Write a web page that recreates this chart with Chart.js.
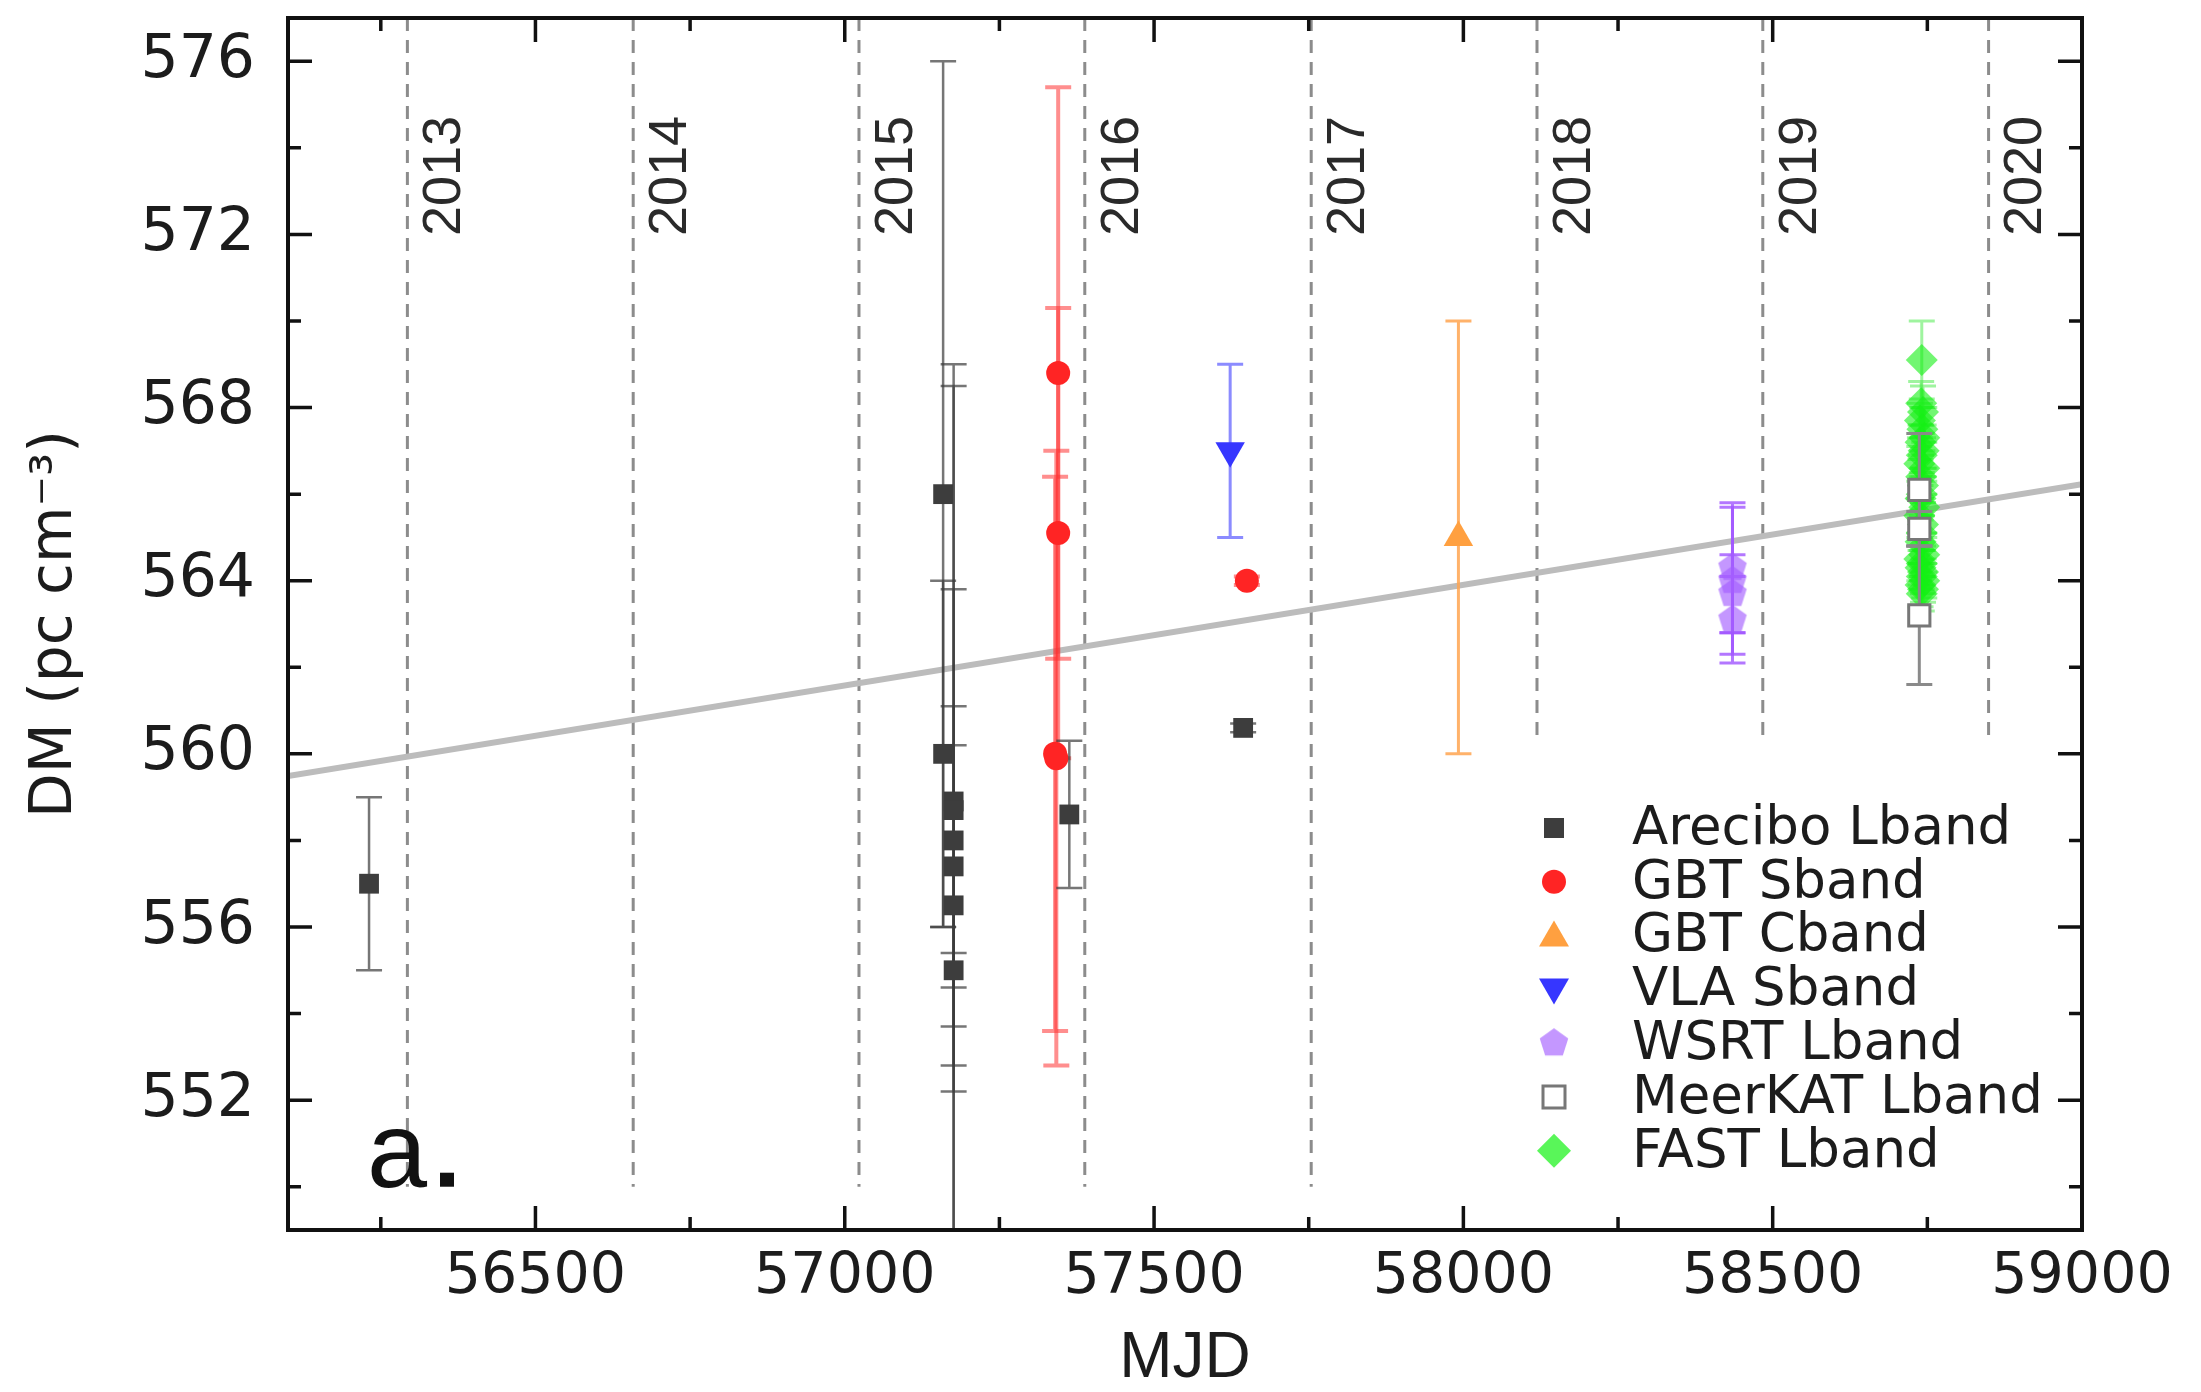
<!DOCTYPE html>
<html>
<head>
<meta charset="utf-8">
<title>DM vs MJD</title>
<script src="https://cdn.jsdelivr.net/npm/chart.js@4.4.1/dist/chart.umd.min.js"></script>
<style>
    html, body { margin: 0; padding: 0; background: #fff; }
    #wrap { width: 2201px; height: 1392px; }
</style>
</head>
<body>
<div id="wrap"><canvas id="dmChart" width="2201" height="1392"></canvas></div>
<script>
/* =========================================================
   DATA
========================================================= */

const areciboMjd = [56231, 57159, 57159, 57176, 57176, 57176, 57176, 57176, 57176, 57363, 57644];
const areciboDm  = [557.0, 566.0, 560.0, 558.9, 558.7, 558.0, 557.4, 556.5, 555.0, 558.6, 560.6];
const areciboErr = [2.0, 10.0, 4.0, 10.1, 9.8, 5.8, 3.7, 3.7, 0.4, 1.7, 0.1];

const gbtSMjd = [57345, 57345, 57340, 57342, 57650];
const gbtSDm  = [568.8, 565.1, 560.0, 559.9, 564.0];
const gbtSErr = [6.6, 5.2, 6.4, 7.1, 0.1];

const gbtCMjd = [57992];
const gbtCDm  = [565.0];
const gbtCErr = [5.0];

const vlaMjd = [57623];
const vlaDm  = [567.0];
const vlaErr = [2.0];

const wsrtMjd = [58435, 58435, 58435, 58435];
const wsrtDm  = [564.3, 564.0, 563.7, 563.1];
const wsrtErr = [1.5, 1.7, 0.9, 1.0];

const meerkatMjd = [58737, 58737, 58737];
const meerkatDm  = [566.1, 565.2, 563.2];
const meerkatErr = [1.3, 0.4, 1.6];

const fastMjd = [58741, 58740, 58743, 58738, 58742, 58745, 58739, 58744, 58741, 58737, 58745,
                 58740, 58743, 58741, 58739, 58745, 58737, 58743, 58741, 58739, 58744, 58745,
                 58737, 58741, 58739, 58743, 58741, 58745, 58739, 58743, 58741];
const fastDm  = [569.1, 568.1, 567.9, 567.7, 567.5, 567.3, 567.2, 567.0, 566.9, 566.7, 566.6,
                 566.4, 566.2, 566.0, 565.9, 565.7, 565.5, 565.3, 565.1, 564.9, 564.8, 564.6,
                 564.5, 564.4, 564.3, 564.2, 564.1, 564.0, 563.9, 563.8, 563.7];
const fastErr = [0.9, 0.5, 0.6, 0.4, 0.5, 0.7, 0.4, 0.6, 0.5, 0.4, 0.6,
                 0.5, 0.4, 0.5, 0.3, 0.6, 0.4, 0.5, 0.4, 0.5, 0.3, 0.4,
                 0.5, 0.3, 0.4, 0.5, 0.3, 0.4, 0.5, 0.3, 0.4];

// linear DM trend
const fitMjd = [56100, 59000];
const fitDm  = [559.49, 566.23];

// first day of each year
const yearLabels = ['2013', '2014', '2015', '2016', '2017', '2018', '2019', '2020'];
const yearMjd    = [56293, 56658, 57023, 57388, 57754, 58119, 58484, 58849];

const xTickValues = [56500, 57000, 57500, 58000, 58500, 59000];
const yTickValues = [552, 556, 560, 564, 568, 572, 576];

const legendLabels = ['Arecibo Lband', 'GBT Sband', 'GBT Cband', 'VLA Sband',
                      'WSRT Lband', 'MeerKAT Lband', 'FAST Lband'];

/* =========================================================
   MARKERS
========================================================= */

function makePentagon(r, fill) {
    const c = document.createElement('canvas');
    c.width = c.height = Math.ceil(2 * r + 2);
    const g = c.getContext('2d');
    g.beginPath();
    for (let i = 0; i < 5; i++) {
        const a = -Math.PI / 2 + i * 2 * Math.PI / 5;
        g.lineTo(c.width / 2 + r * Math.cos(a), c.height / 2 + r * Math.sin(a));
    }
    g.closePath();
    g.fillStyle = fill;
    g.fill();
    return c;
}

const pentagon = makePentagon(15, 'rgba(165,95,255,0.65)');

function points(xs, ys) {
    return xs.map((x, i) => ({ x: x, y: ys[i] }));
}

const COLORS = {
    arecibo: '#3d3d3d',
    gbtS: '#ff2424',
    gbtC: '#ffa040',
    vla: '#3636ff',
    meerkat: '#777777',
    fast: 'rgba(20,240,20,0.6)'
};

/* =========================================================
   PLUGINS
========================================================= */

const errorBars = {
    id: 'errorBars',
    beforeDatasetDraw(chart, args) {
        const ds = chart.data.datasets[args.index];
        if (!ds.errors) return;
        const { ctx, chartArea, scales: { x, y } } = chart;
        const cap = 13;
        ctx.save();
        ctx.beginPath();
        ctx.rect(chartArea.left, chartArea.top, chartArea.right - chartArea.left, chartArea.bottom - chartArea.top);
        ctx.clip();
        ctx.strokeStyle = ds.errorColor;
        ctx.lineWidth = ds.errorWidth;
        ds.data.forEach((p, i) => {
            const e = ds.errors[i];
            const px = x.getPixelForValue(p.x);
            const top = y.getPixelForValue(p.y + e);
            const bot = y.getPixelForValue(p.y - e);
            ctx.beginPath();
            ctx.moveTo(px, top);
            ctx.lineTo(px, bot);
            ctx.moveTo(px - cap, top);
            ctx.lineTo(px + cap, top);
            ctx.moveTo(px - cap, bot);
            ctx.lineTo(px + cap, bot);
            ctx.stroke();
        });
        ctx.restore();
    }
};

const yearLines = {
    id: 'yearLines',
    beforeDatasetsDraw(chart) {
        const { ctx, chartArea, scales: { x, y } } = chart;
        const bottom = y.getPixelForValue(550);
        ctx.save();
        ctx.strokeStyle = '#8c8c8c';
        ctx.lineWidth = 3;
        ctx.setLineDash([13, 9]);
        yearMjd.forEach(m => {
            const px = x.getPixelForValue(m);
            ctx.beginPath();
            ctx.moveTo(px, chartArea.top);
            ctx.lineTo(px, bottom);
            ctx.stroke();
        });
        ctx.setLineDash([]);
        ctx.fillStyle = '#2a2a2a';
        ctx.font = '54px "Liberation Sans"';
        ctx.textAlign = 'center';
        ctx.textBaseline = 'middle';
        yearMjd.forEach((m, i) => {
            const px = x.getPixelForValue(m);
            ctx.save();
            ctx.translate(px + 38, chartArea.top + 158);
            ctx.rotate(-Math.PI / 2);
            ctx.fillText(yearLabels[i], 0, 0);
            ctx.restore();
        });
        ctx.restore();
    }
};

function drawMarker(ctx, kind, cx, cy) {
    ctx.save();
    ctx.beginPath();
    if (kind === 0) {
        ctx.fillStyle = COLORS.arecibo;
        ctx.fillRect(cx - 10, cy - 10, 20, 20);
    } else if (kind === 1) {
        ctx.fillStyle = COLORS.gbtS;
        ctx.arc(cx, cy, 12, 0, Math.PI * 2);
        ctx.fill();
    } else if (kind === 2) {
        ctx.fillStyle = COLORS.gbtC;
        ctx.moveTo(cx, cy - 15);
        ctx.lineTo(cx + 15, cy + 11);
        ctx.lineTo(cx - 15, cy + 11);
        ctx.closePath();
        ctx.fill();
    } else if (kind === 3) {
        ctx.fillStyle = COLORS.vla;
        ctx.moveTo(cx, cy + 15);
        ctx.lineTo(cx + 15, cy - 11);
        ctx.lineTo(cx - 15, cy - 11);
        ctx.closePath();
        ctx.fill();
    } else if (kind === 4) {
        ctx.drawImage(pentagon, cx - pentagon.width / 2, cy - pentagon.height / 2);
    } else if (kind === 5) {
        ctx.strokeStyle = COLORS.meerkat;
        ctx.lineWidth = 3;
        ctx.fillStyle = '#fff';
        ctx.rect(cx - 11, cy - 11, 22, 22);
        ctx.fill();
        ctx.stroke();
    } else {
        ctx.fillStyle = 'rgba(80,245,80,0.95)';
        ctx.moveTo(cx, cy - 17);
        ctx.lineTo(cx + 17, cy);
        ctx.lineTo(cx, cy + 17);
        ctx.lineTo(cx - 17, cy);
        ctx.closePath();
        ctx.fill();
    }
    ctx.restore();
}

const frameAndLegend = {
    id: 'frameAndLegend',
    afterDatasetsDraw(chart) {
        const { ctx, chartArea: a, scales: { x, y } } = chart;
        ctx.save();

        // legend box
        ctx.fillStyle = '#fff';
        ctx.fillRect(1500, 744, a.right - 1500 - 6, 446);
        ctx.font = '53px "DejaVu Sans"';
        ctx.textAlign = 'left';
        ctx.textBaseline = 'middle';
        legendLabels.forEach((label, i) => {
            const ly = 828 + i * 53.8;
            drawMarker(ctx, i, 1554, ly);
            ctx.fillStyle = '#1c1c1c';
            ctx.fillText(label, 1632, ly + 2);
        });

        // panel tag
        ctx.fillStyle = '#111';
        ctx.font = '108px "Liberation Sans"';
        ctx.textBaseline = 'alphabetic';
        ctx.fillText('a', a.left + 79, y.getPixelForValue(550));
        ctx.fillRect(a.left + 152, y.getPixelForValue(550) - 14, 14, 14);

        // ticks on all four sides, pointing inward
        ctx.strokeStyle = '#111';
        ctx.lineWidth = 3.5;
        const major = 24, minor = 13;
        ctx.beginPath();
        for (let v = 56250; v < 59000; v += 250) {
            const px = x.getPixelForValue(v);
            const len = v % 500 === 0 ? major : minor;
            ctx.moveTo(px, a.bottom); ctx.lineTo(px, a.bottom - len);
            ctx.moveTo(px, a.top); ctx.lineTo(px, a.top + len);
        }
        for (let v = 550; v <= 576; v += 2) {
            const py = y.getPixelForValue(v);
            const len = v % 4 === 0 ? major : minor;
            ctx.moveTo(a.left, py); ctx.lineTo(a.left + len, py);
            ctx.moveTo(a.right, py); ctx.lineTo(a.right - len, py);
        }
        ctx.stroke();

        ctx.lineWidth = 4;
        ctx.strokeRect(a.left, a.top, a.right - a.left, a.bottom - a.top);
        ctx.restore();
    }
};

/* =========================================================
   CHART
========================================================= */

const tickFontY = { family: 'DejaVu Sans', size: 60 };
const tickFontX = { family: 'DejaVu Sans', size: 57 };

new Chart(document.getElementById('dmChart'), {
    type: 'scatter',
    data: {
        datasets: [
            {
                type: 'line',
                label: 'fit',
                data: points(fitMjd, fitDm),
                borderColor: '#bcbcbc',
                borderWidth: 6,
                pointRadius: 0,
                order: 10
            },
            {
                label: legendLabels[0],
                data: points(areciboMjd, areciboDm),
                errors: areciboErr,
                errorColor: 'rgba(60,60,60,0.7)',
                errorWidth: 2.5,
                pointStyle: 'rect',
                pointRadius: 14,
                backgroundColor: COLORS.arecibo,
                borderWidth: 0,
                order: 4
            },
            {
                label: legendLabels[1],
                data: points(gbtSMjd, gbtSDm),
                errors: gbtSErr,
                errorColor: 'rgba(255,50,50,0.55)',
                errorWidth: 4,
                pointStyle: 'circle',
                pointRadius: 12,
                backgroundColor: COLORS.gbtS,
                borderWidth: 0,
                order: 4
            },
            {
                label: legendLabels[2],
                data: points(gbtCMjd, gbtCDm),
                errors: gbtCErr,
                errorColor: 'rgba(255,165,80,0.85)',
                errorWidth: 3,
                pointStyle: 'triangle',
                pointRadius: 17,
                backgroundColor: COLORS.gbtC,
                borderWidth: 0,
                order: 4
            },
            {
                label: legendLabels[3],
                data: points(vlaMjd, vlaDm),
                errors: vlaErr,
                errorColor: 'rgba(90,90,255,0.7)',
                errorWidth: 3,
                pointStyle: 'triangle',
                rotation: 180,
                pointRadius: 17,
                backgroundColor: COLORS.vla,
                borderWidth: 0,
                order: 4
            },
            {
                label: legendLabels[4],
                data: points(wsrtMjd, wsrtDm),
                errors: wsrtErr,
                errorColor: 'rgba(160,85,255,0.8)',
                errorWidth: 3,
                pointStyle: pentagon,
                order: 4
            },
            {
                label: legendLabels[6],
                data: points(fastMjd, fastDm),
                errors: fastErr,
                errorColor: 'rgba(80,235,80,0.55)',
                errorWidth: 3,
                pointStyle: 'rectRot',
                pointRadius: 16,
                backgroundColor: COLORS.fast,
                borderWidth: 0,
                order: 3
            },
            {
                label: legendLabels[5],
                data: points(meerkatMjd, meerkatDm),
                errors: meerkatErr,
                errorColor: '#8a8a8a',
                errorWidth: 3,
                pointStyle: 'rect',
                pointRadius: 15,
                backgroundColor: '#ffffff',
                borderColor: COLORS.meerkat,
                borderWidth: 3,
                order: 1
            }
        ]
    },
    options: {
        responsive: false,
        animation: false,
        devicePixelRatio: 1,
        layout: { padding: { top: 12, right: 119, bottom: 0, left: 0 } },
        plugins: {
            legend: { display: false },
            tooltip: { enabled: false }
        },
        scales: {
            x: {
                type: 'linear',
                min: 56100,
                max: 59000,
                grid: { display: false, drawTicks: false },
                border: { display: false },
                ticks: {
                    font: tickFontX, color: '#1c1c1c', padding: 14, maxRotation: 0, autoSkip: false,
                    callback: v => String(v)
                },
                title: {
                    display: true,
                    text: 'MJD',
                    color: '#1c1c1c',
                    font: { family: 'Liberation Sans', size: 64, lineHeight: 1 },
                    padding: { top: 0, bottom: 1 }
                },
                afterBuildTicks: s => { s.ticks = xTickValues.map(v => ({ value: v })); },
                afterFit: s => { s.height = 162; s.paddingLeft = 0; s.paddingRight = 0; }
            },
            y: {
                type: 'linear',
                min: 549,
                max: 577,
                grid: { display: false, drawTicks: false },
                border: { display: false },
                ticks: { font: tickFontY, color: '#1c1c1c', padding: 33, callback: v => String(v) },
                title: {
                    display: true,
                    text: 'DM (pc cm\u207B\u00B3)',
                    color: '#1c1c1c',
                    font: { family: 'DejaVu Sans', size: 58, lineHeight: 1.2 },
                    padding: { top: 21, bottom: 0 }
                },
                afterBuildTicks: s => { s.ticks = yTickValues.map(v => ({ value: v })); },
                afterFit: s => { s.width = 288; s.paddingTop = 0; s.paddingBottom = 0; }
            }
        }
    },
    plugins: [yearLines, errorBars, frameAndLegend]
});
</script>
</body>
</html>
